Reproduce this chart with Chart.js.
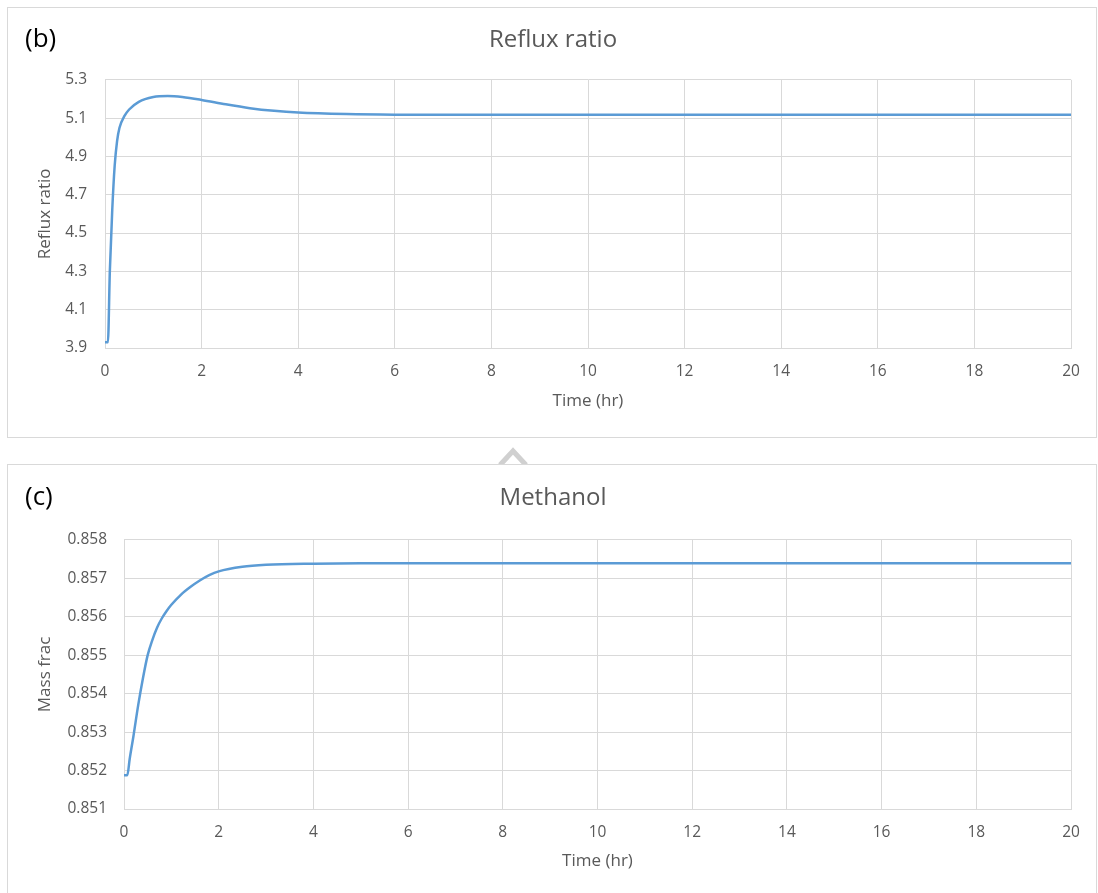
<!DOCTYPE html>
<html>
<head>
<meta charset="utf-8">
<script src="https://cdn.jsdelivr.net/npm/chart.js@4/dist/chart.umd.min.js"></script>
<style>
  body { margin: 0; background: #fff; width: 1098px; height: 893px; overflow: hidden; position: relative; }
  .box { position: absolute; left: 7px; width: 1090px; border: 1px solid #d9d9d9; box-sizing: border-box; background: #fff; }
  .tag { position: absolute; font-family: "Open Sans", sans-serif; font-size: 26px; line-height: 30px; color: #000; }
  canvas { position: absolute; left: 0; top: 0; }
</style>
</head>
<body>
<div class="box" style="top:7px;height:431px;">
  <canvas id="reflux" width="1088" height="429"></canvas>
  <div class="tag" style="left:17px;top:14px;">(b)</div>
</div>
<svg style="position:absolute;left:0;top:0" width="1098" height="893">
  <polyline points="500,465 513,451 526,465" fill="none" stroke="#d0d0d0" stroke-width="5"/>
</svg>
<div class="box" style="top:464px;height:440px;">
  <canvas id="methanol" width="1088" height="428"></canvas>
  <div class="tag" style="left:17px;top:15px;">(c)</div>
</div>
<script>
// time axis (hr)
const refluxTime = [0, 0.06, 0.1, 0.15, 0.2, 0.25, 0.3, 0.4, 0.5, 0.7, 1.0, 1.3, 1.6, 2.0, 2.5, 3, 3.5, 4, 5, 6, 8, 10, 12, 14, 16, 18, 20];
const refluxRatio = [3.93, 3.93, 4.30, 4.62, 4.85, 4.98, 5.05, 5.11, 5.145, 5.185, 5.21, 5.215, 5.21, 5.195, 5.172, 5.152, 5.138, 5.129, 5.121, 5.118, 5.117, 5.117, 5.117, 5.117, 5.117, 5.117, 5.117];

const methTime = [0, 0.07, 0.12, 0.2, 0.3, 0.4, 0.5, 0.6, 0.7, 0.8, 0.9, 1.0, 1.2, 1.4, 1.6, 1.8, 2.0, 2.5, 3, 4, 5, 6, 8, 10, 12, 14, 16, 18, 20];
const methFrac = [0.85188, 0.85188, 0.8523, 0.8529, 0.8537, 0.8544, 0.8550, 0.8554, 0.85572, 0.85596, 0.85615, 0.85631, 0.85657, 0.85677, 0.85694, 0.85708, 0.85718, 0.85730, 0.85735, 0.85738, 0.85739, 0.85739, 0.85739, 0.85739, 0.85739, 0.85739, 0.85739, 0.85739, 0.85739];

const xTicks = [0, 2, 4, 6, 8, 10, 12, 14, 16, 18, 20];

const FONT = "'Open Sans', sans-serif";
const GREY = "#595959";
const GRID = "#d9d9d9";
const PAD_LEFT = 27;

function makeChart(id, cfg) {
    const pts = cfg.x.map((t, i) => ({ x: t, y: cfg.y[i] }));
    return new Chart(document.getElementById(id), {
        type: 'line',
        data: {
            datasets: [{
                data: pts,
                borderColor: '#5b9bd5',
                borderWidth: 2.5,
                pointRadius: 0,
                cubicInterpolationMode: 'monotone',
                fill: false
            }]
        },
        options: {
            responsive: false,
            animation: false,
            devicePixelRatio: 1,
            layout: { padding: { left: PAD_LEFT, right: 25, top: 0, bottom: 0 } },
            plugins: {
                legend: { display: false },
                tooltip: { enabled: false },
                title: {
                    display: true,
                    text: cfg.title,
                    color: GREY,
                    font: { family: FONT, size: 24, weight: 'normal' },
                    padding: { top: cfg.titleTop, bottom: cfg.titleBottom }
                }
            },
            scales: {
                x: {
                    type: 'linear',
                    min: 0, max: 20,
                    afterBuildTicks: s => { s.ticks = xTicks.map(v => ({ value: v })); },
                    afterFit: s => { s.height = cfg.xHeight; },
                    grid: { color: GRID, drawTicks: false, lineWidth: 1 },
                    border: { color: GRID },
                    ticks: { color: GREY, font: { family: FONT, size: 15.5 }, padding: 14, maxRotation: 0 },
                    title: {
                        display: true, text: 'Time (hr)', color: GREY,
                        font: { family: FONT, size: 17 },
                        padding: { top: 0, bottom: cfg.xTitlePad }
                    }
                },
                y: {
                    min: cfg.yMin, max: cfg.yMax,
                    ticks: {
                        stepSize: cfg.yStep, color: GREY, padding: cfg.yTickPad,
                        font: { family: FONT, size: 15.5 },
                        callback: v => v.toFixed(cfg.dec)
                    },
                    afterFit: s => { s.width = cfg.yWidth - PAD_LEFT; },
                    grid: { color: GRID, drawTicks: false, lineWidth: 1 },
                    border: { color: GRID },
                    title: {
                        display: true, text: cfg.yTitle, color: GREY,
                        font: { family: FONT, size: 17 },
                        padding: { top: 0, bottom: 0 }
                    }
                }
            }
        }
    });
}

makeChart('reflux', {
    x: refluxTime, y: refluxRatio,
    title: 'Reflux ratio', yTitle: 'Reflux ratio',
    titleTop: 18, titleBottom: 25,
    xHeight: 89, xTitlePad: 26,
    yMin: 3.9, yMax: 5.3, yStep: 0.2, dec: 1,
    yWidth: 97, yTickPad: 18
});

makeChart('methanol', {
    x: methTime, y: methFrac,
    title: 'Methanol', yTitle: 'Mass frac',
    titleTop: 19, titleBottom: 27,
    xHeight: 84, xTitlePad: 22,
    yMin: 0.851, yMax: 0.858, yStep: 0.001, dec: 3,
    yWidth: 116, yTickPad: 17
});
</script>
</body>
</html>
